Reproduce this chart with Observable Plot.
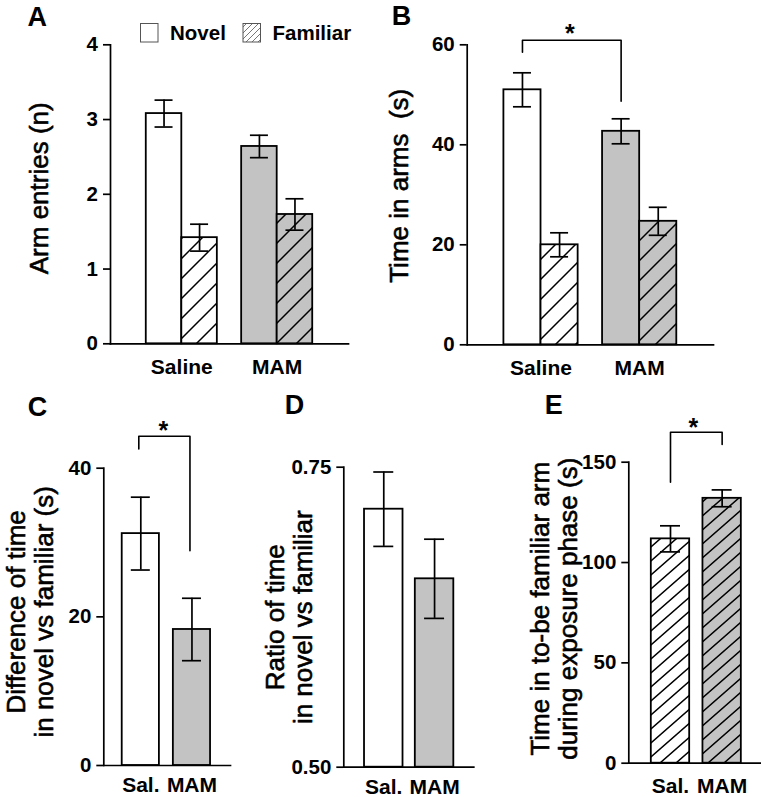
<!DOCTYPE html>
<html><head><meta charset="utf-8">
<script src="https://cdn.jsdelivr.net/npm/d3@7"></script>
<script src="https://cdn.jsdelivr.net/npm/@observablehq/plot@0.6"></script>
<style>
html,body{margin:0;padding:0;background:#fff;}
#fig{position:relative;width:761px;height:797px;overflow:hidden;background:#fff;}
</style></head><body><div id="fig"></div>
<script>
// ---------- data ----------
const groupsAB = ["Saline", "MAM"];
const groupsCDE = ["Sal.", "MAM"];
const seriesNames = ["Novel", "Familiar"];
// A: arm entries (n)
const entriesNovel = [3.08, 2.64];
const entriesNovelErr = [0.18, 0.15];
const entriesFamiliar = [1.42, 1.73];
const entriesFamiliarErr = [0.18, 0.21];
// B: time in arms (s)
const timeNovel = [51.0, 42.7];
const timeNovelErr = [3.4, 2.5];
const timeFamiliar = [20.0, 24.7];
const timeFamiliarErr = [2.4, 2.8];
// C: difference of time (s)
const diffTime = [31.2, 18.3];
const diffTimeErr = [4.9, 4.2];
// D: ratio
const ratioTime = [0.715, 0.657];
const ratioTimeErr = [0.031, 0.033];
// E: time in to-be familiar arm during exposure (s)
const exposureTime = [111.8, 132.0];
const exposureTimeErr = [6.5, 4.2];
// ticks
const ticksA = [0, 1, 2, 3, 4];
const ticksB = [0, 20, 40, 60];
const ticksC = [0, 20, 40];
const ticksD = [0.50, 0.75];
const ticksE = [0, 50, 100, 150];
// significance brackets (y values of the 4 corner points) and star heights
const bracketBY = [58.5, 60.9, 60.9, 48.7];
const starB = 63.3;
const bracketCY = [42.6, 44.3, 44.3, 28.9];
const starC = 45.8;
const bracketEY = [140, 164.9, 164.9, 158.8];
const starE = 169.8;

// ---------- helpers ----------
const FONT = '"Liberation Sans", Arial, Helvetica, sans-serif';
const GRAY = "#c3c3c3";
const fig = document.getElementById("fig");

function place(svg, left, top) {
  svg.style.position = "absolute";
  svg.style.left = left + "px";
  svg.style.top = top + "px";
  svg.style.maxWidth = "none";
  svg.style.overflow = "visible";
  fig.appendChild(svg);
}
function addHatch(svg, id, bg, w, h, color, sw) {
  let defs = d3.select(svg).select("defs");
  if (defs.empty()) defs = d3.select(svg).insert("defs", ":first-child");
  const p = defs.append("pattern").attr("id", id).attr("patternUnits", "userSpaceOnUse")
    .attr("width", w).attr("height", h);
  p.append("rect").attr("width", w).attr("height", h).attr("fill", bg);
  p.append("path")
    .attr("d", `M0,${h}L${w},0M${-w/2},${h/2}L${w/2},${-h/2}M${w/2},${h*1.5}L${w*1.5},${h/2}`)
    .attr("stroke", color).attr("stroke-width", sw).attr("fill", "none");
}
function bandWidth(range, n, pI, pO) {
  const step = range / Math.max(1, n - pI + 2 * pO);
  return {step, bw: step * (1 - pI)};
}
function rows(groups, vals, errs) {
  return groups.map((g, i) => ({g, v: vals[i], e: errs[i]}));
}
function errMarks(data, bw, dx, capW) {
  const inset = {insetLeft: bw/2 + dx - capW/2, insetRight: bw/2 - dx - capW/2};
  return [
    Plot.ruleX(data, {x: "g", y1: d => d.v - d.e, y2: d => d.v + d.e, dx, stroke: "black", strokeWidth: 1.7}),
    Plot.tickY(data, {x: "g", y: d => d.v + d.e, ...inset, stroke: "black", strokeWidth: 1.7}),
    Plot.tickY(data, {x: "g", y: d => d.v - d.e, ...inset, stroke: "black", strokeWidth: 1.7})
  ];
}
function bracket(groups, ys, dx) {
  const pts = [groups[0], groups[0], groups[1], groups[1]].map((g, i) => ({g, y: ys[i]}));
  return Plot.line(pts, {x: "g", y: "y", dx, stroke: "black", strokeWidth: 1.6});
}
function axes(ticks, fmt, xPad) {
  return [
    Plot.frame({anchor: "left", stroke: "black", strokeWidth: 1.7}),
    Plot.frame({anchor: "bottom", stroke: "black", strokeWidth: 1.7}),
    Plot.axisY({ticks, tickFormat: fmt, tickSize: 7, tickPadding: 5.5, fontSize: 20.5, fontWeight: "bold", label: null, strokeWidth: 1.7}),
    Plot.axisX({tickSize: 0, tickPadding: xPad, fontSize: 21, fontWeight: "bold", label: null})
  ];
}
function ylab(text, dx, dy) {
  return Plot.text([text], {text: d => d, frameAnchor: "left", rotate: -90, dx, dy, fontSize: 26, fontWeight: "normal",
    stroke: "black", strokeWidth: 0.6, fill: "black",
    lineHeight: 1.08, textAnchor: "middle", lineAnchor: "middle"});
}
function letter(t, dx, dy) {
  return Plot.text([t], {text: d => d, frameAnchor: "top-left", dx, dy, fontSize: 27, fontWeight: "bold", textAnchor: "start", lineAnchor: "bottom"});
}
const baseStyle = {fontFamily: FONT, fontSize: "20px", background: "transparent", overflow: "visible"};
const sBar = {stroke: "black", strokeWidth: 1.8};

// ---------- Panel A ----------
{
  const W = 360, H = 385, m = {l: 110, r: 12, t: 44.3, b: 41.7};
  const pI = 0.255, pO = 0.375;
  const {bw} = bandWidth(W - m.l - m.r, 2, pI, pO);
  const nov = rows(groupsAB, entriesNovel, entriesNovelErr);
  const fam = rows(groupsAB, entriesFamiliar, entriesFamiliarErr);
  const q = bw / 4;
  const svg = Plot.plot({
    width: W, height: H, marginLeft: m.l, marginRight: m.r, marginTop: m.t, marginBottom: m.b,
    style: baseStyle,
    x: {type: "band", domain: groupsAB, paddingInner: pI, paddingOuter: pO, round: false},
    y: {domain: [0, 4]},
    marks: [
      Plot.barY(nov, {x: "g", y1: () => 0, y2: "v", fill: d => d.g === "Saline" ? "white" : GRAY, insetRight: bw/2, ...sBar}),
      Plot.barY(fam, {x: "g", y1: () => 0, y2: "v", fill: d => d.g === "Saline" ? "url(#hA-w)" : "url(#hA-g)", insetLeft: bw/2, ...sBar}),
      ...errMarks(nov, bw, -q, 18),
      ...errMarks(fam, bw, q, 18),
      ...axes(ticksA, d => d, 15.7),
      ylab("Arm entries (n)", -72, -6),
      letter("A", -83, -19)
    ]
  });
  addHatch(svg, "hA-w", "white", 20, 20, "black", 1.5);
  addHatch(svg, "hA-g", GRAY, 20, 20, "black", 1.5);
  place(svg, 0, 0);

  // legend
  const leg = d3.create("svg").attr("width", 360).attr("height", 60);
  addHatch(leg.node(), "legHatch", "white", 6, 6, "#777", 1);
  const sw = [{x: 140, fill: "white"}, {x: 242.5, fill: "url(#legHatch)"}];
  seriesNames.forEach((name, i) => {
    leg.append("rect").attr("x", sw[i].x + 0.5).attr("y", 23.5).attr("width", 17.5).attr("height", 18.5)
      .attr("fill", sw[i].fill).attr("stroke", "#555").attr("stroke-width", 1);
    leg.append("text").attr("x", sw[i].x + 30).attr("y", 39.5).text(name)
      .attr("font-family", FONT).attr("font-size", 20.5).attr("font-weight", "bold");
  });
  place(leg.node(), 0, 0);
}

// ---------- Panel B ----------
{
  const W = 381, H = 385, m = {l: 86.7, r: 48, t: 44.3, b: 40.7};
  const pI = 0.2476, pO = 0.372;
  const {step, bw} = bandWidth(W - m.l - m.r, 2, pI, pO);
  const nov = rows(groupsAB, timeNovel, timeNovelErr);
  const fam = rows(groupsAB, timeFamiliar, timeFamiliarErr);
  const q = bw / 4;
  const svg = Plot.plot({
    width: W, height: H, marginLeft: m.l, marginRight: m.r, marginTop: m.t, marginBottom: m.b,
    style: baseStyle,
    x: {type: "band", domain: groupsAB, paddingInner: pI, paddingOuter: pO, round: false},
    y: {domain: [0, 60]},
    marks: [
      Plot.barY(nov, {x: "g", y1: () => 0, y2: "v", fill: d => d.g === "Saline" ? "white" : GRAY, insetRight: bw/2, ...sBar}),
      Plot.barY(fam, {x: "g", y1: () => 0, y2: "v", fill: d => d.g === "Saline" ? "url(#hB-w)" : "url(#hB-g)", insetLeft: bw/2, ...sBar}),
      ...errMarks(nov, bw, -q, 18),
      ...errMarks(fam, bw, q, 18),
      bracket(groupsAB, bracketBY, -q),
      Plot.text([starB], {x: () => "Saline", y: d => d, text: () => "*", dx: step/2 - q - 2, dy: 6, fontSize: 25, fontWeight: "bold"}),
      ...axes(ticksB, d => d, 15.7),
      ylab("Time in arms  (s)", -68.5, -9),
      letter("B", -75.5, -20)
    ]
  });
  addHatch(svg, "hB-w", "white", 20, 20, "black", 1.5);
  addHatch(svg, "hB-g", GRAY, 20, 20, "black", 1.5);
  place(svg, 380, 0);
}

// ---------- Panel C ----------
{
  const W = 245, H = 412, m = {l: 103.3, r: 15, t: 82.7, b: 32};
  const pI = 0.273, pO = 0.375;
  const {step, bw} = bandWidth(W - m.l - m.r, 2, pI, pO);
  const d = rows(groupsCDE, diffTime, diffTimeErr);
  const svg = Plot.plot({
    width: W, height: H, marginLeft: m.l, marginRight: m.r, marginTop: m.t, marginBottom: m.b,
    style: baseStyle,
    x: {type: "band", domain: groupsCDE, paddingInner: pI, paddingOuter: pO, align: 0.48, round: false},
    y: {domain: [0, 40]},
    marks: [
      Plot.barY(d, {x: "g", y1: () => 0, y2: "v", fill: r => r.g === "MAM" ? GRAY : "white", ...sBar}),
      ...errMarks(d, bw, 0, 19),
      bracket(groupsCDE, bracketCY, -2),
      Plot.text([starC], {x: () => groupsCDE[0], y: v => v, text: () => "*", dx: step/2 - 3, dy: 6, fontSize: 25, fontWeight: "bold"}),
      ...axes(ticksC, v => v, 11.7),
      ylab("Difference of time\nin novel vs familiar (s)", -74, -5),
      letter("C", -76, -52.7)
    ]
  });
  place(svg, 0, 385);
}

// ---------- Panel D ----------
{
  const W = 255, H = 412, m = {l: 98.3, r: 26.7, t: 81.7, b: 30.3};
  const pI = 0.2421, pO = 0.4006;
  const {bw} = bandWidth(W - m.l - m.r, 2, pI, pO);
  const d = rows(groupsCDE, ratioTime, ratioTimeErr);
  const svg = Plot.plot({
    width: W, height: H, marginLeft: m.l, marginRight: m.r, marginTop: m.t, marginBottom: m.b,
    style: baseStyle,
    x: {type: "band", domain: groupsCDE, paddingInner: pI, paddingOuter: pO, align: 0.509, round: false},
    y: {domain: [0.5, 0.75]},
    marks: [
      Plot.barY(d, {x: "g", y1: () => 0.5, y2: "v", fill: r => r.g === "MAM" ? GRAY : "white", ...sBar}),
      ...errMarks(d, bw, 0, 20),
      ...axes(ticksD, d3.format(".2f"), 11.5),
      ylab("Ratio of time\nin novel vs familiar", -55, 0),
      letter("D", -59, -53.5)
    ]
  });
  place(svg, 245, 385);
}

// ---------- Panel E ----------
{
  const W = 261, H = 412, m = {l: 128.3, r: 1, t: 76.7, b: 34.3};
  const pI = 0.257, pO = 0.4035;
  const {step, bw} = bandWidth(W - m.l - m.r, 2, pI, pO);
  const d = rows(groupsCDE, exposureTime, exposureTimeErr);
  const svg = Plot.plot({
    width: W, height: H, marginLeft: m.l, marginRight: m.r, marginTop: m.t, marginBottom: m.b,
    style: baseStyle,
    x: {type: "band", domain: groupsCDE, paddingInner: pI, paddingOuter: pO, align: 0.54, round: false},
    y: {domain: [0, 150]},
    marks: [
      Plot.barY(d, {x: "g", y1: () => 0, y2: "v", fill: r => r.g === "MAM" ? "url(#hE-g)" : "url(#hE-w)", ...sBar}),
      ...errMarks(d, bw, 0, 20),
      bracket(groupsCDE, bracketEY, 0),
      Plot.text([starE], {x: () => groupsCDE[0], y: v => v, text: () => "*", dx: step/2 - 3, dy: 6, fontSize: 25, fontWeight: "bold"}),
      ...axes(ticksE, v => v, 15),
      ylab("Time in to-be familiar arm\nduring exposure phase (s)", -75, -4),
      letter("E", -84, -48.5)
    ]
  });
  addHatch(svg, "hE-w", "white", 16, 14, "black", 1.5);
  addHatch(svg, "hE-g", GRAY, 16, 14, "black", 1.5);
  place(svg, 500, 385);
}
</script>
</body></html>
